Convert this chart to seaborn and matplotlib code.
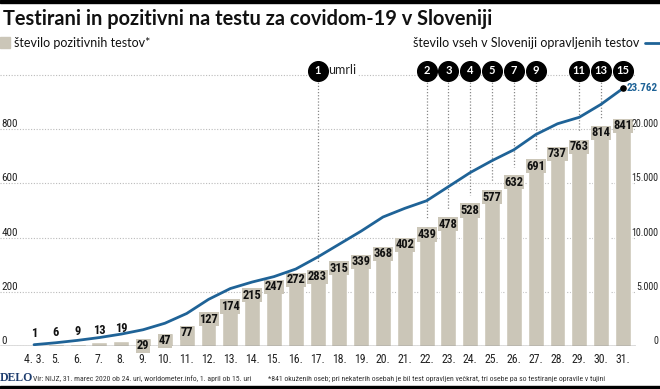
import pandas as pd
import numpy as np
import matplotlib
matplotlib.use('Agg')
import matplotlib.pyplot as plt
from matplotlib.patches import Rectangle
from matplotlib.lines import Line2D
import seaborn as sns

# podatki
dnevi = ['4. 3.', '5.', '6.', '7.', '8.', '9.', '10.', '11.', '12.', '13.', '14.', '15.', '16.', '17.',
         '18.', '19.', '20.', '21.', '22.', '23.', '24.', '25.', '26.', '27.', '28.', '29.', '30.', '31.']
pozitivni = [1, 6, 9, 13, 19, 29, 47, 77, 127, 174, 215, 247, 272, 283,
             315, 339, 368, 402, 439, 478, 528, 577, 632, 691, 737, 763, 814, 841]
testi = [120, 300, 520, 780, 1100, 1500, 2100, 3000, 4300, 5300, 5900, 6400, 7100, 8200,
         9400, 10600, 11900, 12700, 13400, 14700, 16000, 17100, 18100, 19500, 20500, 21100, 22300, 23762]

# umrli (dan, skupno stevilo)
umrli_dnevi = ['17.', '22.', '23.', '24.', '25.', '26.', '27.', '29.', '30.', '31.']
umrli = [1, 2, 3, 4, 5, 7, 9, 11, 13, 15]

levo_oznake = ['0', '200', '400', '600', '800', '']
desno_oznake = ['0', '5.000', '10.000', '15.000', '20.000']

BAR = '#cbc6b8'
BLUE = '#1f6397'
NARROW = ['Roboto Condensed', 'Liberation Sans Narrow', 'Roboto', 'DejaVu Sans']

sns.set_theme(style='white')
plt.rcParams['font.family'] = ['Lato', 'DejaVu Sans']

df = pd.DataFrame({'dan': dnevi, 'pozitivni': pozitivni, 'testi': testi})
df['pos'] = df.index

fig = plt.figure(figsize=(6.6, 3.89), dpi=100)
ax = fig.add_axes([0, 43 / 389, 636 / 660, (346 - 55) / 389])
px = 0.271  # px per unit levo
ytop = (346 - 55) / px

sns.barplot(data=df, x='dan', y='pozitivni', color=BAR, saturation=1, width=0.73, ax=ax, zorder=2)
ax.set_xlim(-1.56, 27.6)
ax.set_ylim(0, ytop)
ax.set_xlabel('')
ax.set_ylabel('')
for s in ax.spines.values():
    s.set_visible(False)

ax.set_yticks([0, 200, 400, 600, 800, 1000])
ax.set_yticklabels(levo_oznake)
ax.tick_params(axis='y', length=0, pad=-1, labelsize=8, colors='#222222')
for lbl in ax.get_yticklabels():
    lbl.set_ha('left')
    lbl.set_va('bottom')
    lbl.set_fontfamily(NARROW)
ax.grid(axis='y', linestyle=(0, (1, 1.5)), color='#bbbbbb', lw=0.8)
ax.set_axisbelow(True)
ax.axhline(0, color='#555555', lw=1, zorder=3)

ax.set_xticks(df['pos'])
ax.set_xticklabels(dnevi, fontsize=8.5, color='#222222', family=NARROW)
ax.tick_params(axis='x', which='major', length=0, pad=5)
ax.set_xticks(np.arange(-1.5, 28, 1), minor=True)
ax.tick_params(axis='x', which='minor', length=4, width=0.8, color='#777777', direction='out')

# oznake stolpcev
for i, v in enumerate(pozitivni):
    if v < 25:
        ax.text(i, v + 20, str(v), ha='center', va='bottom', fontsize=9, fontweight='bold',
                family=NARROW, color='#111111', zorder=4)
    else:
        ax.text(i, v - 4, str(v), ha='center', va='top', fontsize=9, fontweight='bold',
                family=NARROW, color='#111111', zorder=4,
                bbox=dict(boxstyle='square,pad=0.05', fc=BAR, ec='none'))

# umrli
yc = (346 - 71) / px
for d, n in zip(umrli_dnevi, umrli):
    i = dnevi.index(d)
    if d != dnevi[-1]:
        ax.plot([i, i], [yc - 30, pozitivni[i] + 28], color='#888888', lw=0.9,
                linestyle=(0, (1, 1.5)), zorder=1)
    ax.scatter([i], [yc], s=200, color='black', zorder=5, clip_on=False)
    ax.text(i, yc, str(n), color='white', fontsize=8, fontweight='bold', ha='center',
            va='center', zorder=6, clip_on=False)
ax.text(dnevi.index(umrli_dnevi[0]) + 0.47, yc + 4, 'umrli', ha='left', va='center', fontsize=9,
        color='#222222', zorder=4, bbox=dict(boxstyle='square,pad=0.15', fc='white', ec='none'))

# skupno stevilo testov
ax2 = ax.twinx()
sns.lineplot(data=df, x='pos', y='testi', color=BLUE, lw=2, ax=ax2, zorder=3)
ax2.set_ylim(0, ytop * 25)
ax2.set_xlim(-1.56, 27.6)
ax2.set_xlabel('')
ax2.set_ylabel('')
for s in ax2.spines.values():
    s.set_visible(False)
ax2.set_yticks([0, 5000, 10000, 15000, 20000])
ax2.set_yticklabels(desno_oznake)
ax2.tick_params(axis='y', length=0, pad=16, labelsize=7.2, colors='#222222')
for lbl in ax2.get_yticklabels():
    lbl.set_ha('right')
    lbl.set_va('bottom')
    lbl.set_fontfamily(NARROW)
ax2.scatter([df['pos'].iloc[-1]], [testi[-1]], s=14, color='black', zorder=4)
ax2.text(df['pos'].iloc[-1] + 0.18, testi[-1], f"{testi[-1]:,}".replace(',', '.'), color=BLUE,
         fontsize=8, fontweight='bold', family=NARROW, ha='left', va='center')

# naslov in legenda
fig.add_artist(Rectangle((0, 1 - 3 / 389), 1, 3 / 389, transform=fig.transFigure, color='black'))
fig.add_artist(Rectangle((0, 0), 1, 3 / 389, transform=fig.transFigure, color='black'))
fig.text(3 / 660, 1 - 25 / 389, 'Testirani in pozitivni na testu za covidom-19 v Sloveniji',
         fontsize=14.4, fontweight='bold', color='#111111', va='baseline')
fig.add_artist(Rectangle((0, 1 - 48 / 389), 10 / 660, 11 / 389, transform=fig.transFigure, color=BAR))
fig.text(14 / 660, 1 - 47 / 389, 'število pozitivnih testov*', fontsize=9, color='#111111', va='baseline')
fig.text(639 / 660, 1 - 47 / 389, 'število vseh v Sloveniji opravljenih testov', fontsize=9,
         color='#111111', va='baseline', ha='right')
fig.add_artist(Line2D([645 / 660, 1], [1 - 43 / 389] * 2, transform=fig.transFigure, color=BLUE, lw=2))

# noga
fig.text(0, 1 - 381 / 389, 'DELO', family=['Liberation Serif', 'DejaVu Serif'], fontweight='bold',
         fontsize=8.5, color='#1d3c6e', va='baseline')
fig.text(33 / 660, 1 - 381 / 389, 'Vir: NIJZ, 31. marec 2020 ob 24. uri, worldometer.info, 1. april ob 15. uri',
         family=NARROW, fontsize=5.6, color='#333333', va='baseline')
fig.text(268 / 660, 1 - 381 / 389,
         '*841 okuženih oseb; pri nekaterih osebah je bil test opravljen večkrat, tri osebe pa so testiranje opravile v tujini',
         family=NARROW, fontsize=5.6, color='#333333', va='baseline')

fig.savefig('out.png', dpi=100)
